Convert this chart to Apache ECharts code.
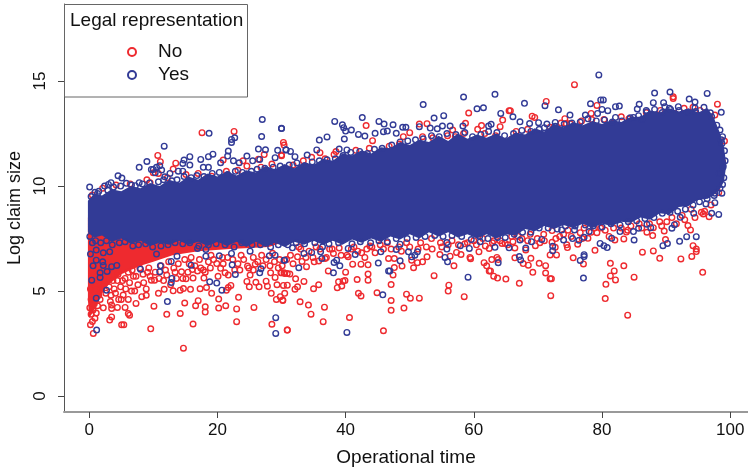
<!DOCTYPE html>
<html><head><meta charset="utf-8">
<script src="https://cdn.jsdelivr.net/npm/echarts@6/dist/echarts.min.js"></script>
<style>html,body{margin:0;padding:0;background:#fff}#c{width:748px;height:470px}</style></head>
<body><div id="c"></div>
<script>
const xTicks=[0,20,40,60,80,100];
const yTicks=[0,5,10,15];
// Envelope of the solid (overplotted) core
const coreX=[-0.2,0.8,2,3.5,5,6.5,8,9.5,11,12.5,14,15.5,17,18.5,20,21.5,23,24.5,26,27.5,29,30.5,32,33.5,35,36.5,38,39.5,41,42.5,44,45.5,47,48.5,50,51.5,53,54.5,56,57.5,59,60.5,62,63.5,65,66.5,68,69.5,71,72.5,74,75.5,77,78.5,80,81.5,83,84.5,86,87.5,89,90.5,92,93.5,95,96.5,97.5,98.3,99,99.4];
const coreTop=[9.3,9.65,9.55,9.85,9.75,10,9.9,10.15,10,10.3,10.15,10.45,10.3,10.6,10.45,10.7,10.5,10.75,10.65,10.95,10.8,11.05,10.85,11.15,11,11.3,11.2,11.55,11.45,11.7,11.55,11.85,11.8,12.1,11.95,12.2,12.1,12.4,12.15,12.5,12.25,12.45,12.3,12.5,12.25,12.55,12.45,12.75,12.6,12.95,12.8,13.05,12.9,13.1,12.95,13.15,13.05,13.3,13.3,13.6,13.5,13.7,13.55,13.7,13.5,13.7,13.2,12.6,11.9,11];
const coreLow=[7.8,7.55,7.65,7.35,7.5,7.25,7.4,7.15,7.3,7.2,7.4,7.2,7.35,7.15,7.35,7.15,7.35,7.1,7.35,7.1,7.3,7.1,7.35,7.2,7.4,7.2,7.4,7.2,7.45,7.3,7.5,7.35,7.6,7.45,7.7,7.5,7.8,7.6,7.8,7.55,7.7,7.5,7.7,7.5,7.7,7.65,7.95,7.85,8.1,7.95,8.15,8,8.2,8,8.2,8.1,8.3,8.25,8.5,8.4,8.7,8.65,9,9.05,9.35,9.4,9.6,9.8,10.2,11];
// Solid red region under the core at the low end of operational time
const redX=[-0.2,0,1,2,3,5,8,10,13,17,22,28,31];
const redLow=[4.6,3.7,4.2,4.9,5.3,5.8,6.2,6.4,6.7,6.9,7,7.1,7.4];
const redTop=[8.5,8.5,8.5,8.5,8.5,8.5,8.5,8.5,8.5,8.5,8.5,8.5,8.5];
const noPoints=[[0.64,2.98],[14.7,2.28],[9.6,3.2],[5.06,3.39],[5.4,3.39],[16.2,3.43],[23,3.54],[12.1,3.89],[14.2,3.93],[18.1,4],[23,4.15],[18.1,4.25],[20.2,4.19],[21.3,4.3],[25.7,4.22],[16.6,4.3],[10.1,4.28],[14.9,4.43],[17,4.54],[20.2,4.62],[23.3,4.7],[6.3,3.85],[6.1,3.93],[3.5,4.17],[4.4,4.22],[5.6,4.22],[3.5,4.33],[7.3,4.41],[8.9,4.8],[28.5,3.42],[30.9,3.14],
[15.1,5.58],[16.2,5.62],[17.9,5.62],[14.7,5.12],[15.8,5.08],[14.2,5.04],[13.1,5.01],[11.7,5.08],[10.8,4.89],[17.3,5.11],[18.3,5.17],[19.1,4.89],[21.4,5.04],[22.1,5.27],[21.7,5.17],[24.6,5.46],[24.98,5.2],[26,5.42],[26.5,5.2],[27.6,5.47],[27.8,5.23],[29.3,5.3],[28.4,4.89],[30.3,5.27],[30.4,5.87],[30.9,5.84],[29.9,5.87],[29,5.65],[28.3,5.87],[25.9,6.28],[24.7,6.19],[25.1,5.76],[23.5,6],[21.7,5.76],[21.2,5.87],[20.5,6.08],[19.9,6.31],[18.6,6.39],[17.8,6],[16.9,5.96],[16.1,6.03],[14.4,5.92],[13.6,5.6],[12.1,5.76],[9.7,5.52],[10.2,5.52],[6.1,4.6],[4.6,4.6],[5.3,4.81],[8.2,4.73],[3.2,3.62],[3.5,3.77],[29.2,4.6],[30.2,4.57],[29.8,4.73],
[30.9,3.14],[36.5,3.54],[34.6,3.9],[40.6,3.74],[36.7,4.23],[34.2,4.33],[32.9,4.49],[30.2,4.55],[45.9,3.11],[49.1,4.19],[47.1,4.08],[47.1,4.55],[49.5,4.85],[50.1,4.66],[51.5,4.66],[58.5,4.73],[56,5],[56.1,5.28],[53.8,5.73],[44.9,4.92],[42,4.89],[42.4,4.77],[47.1,5.31],[41.8,5.55],[43.5,5.52],[43.5,5.81],[47.4,5.77],[47.6,6.12],[48.8,6.19],[50.6,6.11],[37.3,5.96],[33.9,6.16],[32.2,5.58],[33.5,5.46],[35.8,5.3],[35,5.11],[32.1,5.09],[32.5,5.2],[30.9,5.28],[30.5,4.89],[38.9,5.44],[39.6,5.47],[39.9,5.5],[38.7,5.16],[39.4,5.24],[40,5.9],[41.1,6.28],[42.4,6.28],[43.5,6.25],[31.3,5.81],[30.5,5.84],[30,5.87],[33.2,6.41],[32.5,6.63],[35.1,6.39],[35.8,6.43],
[36.8,6.55],[38.1,6.79],[40.2,6.71],[40.4,6.63],[43,6.6],[42.5,6.82],[44.6,6.82],[46.7,6.55],[47.6,6.55],[50.3,6.47],[51.2,6.35],[52,6.39],[52.7,6.63],[54.7,6.74],[56.3,6.66],[56.9,6.2],[57.3,6.84],[58,6.74],[59.4,6.6],[59.5,6.54],[60.8,6.87],[61.6,6.35],[62,6.2],[62.4,5.96],[62.6,5.96],[63.1,5.71],[63.7,5.62],[65,5.57],[63.6,6.6],[63.8,6.5],[62.8,6.5],[62.4,7.03],[64.9,7.27],[64.4,7.27],[63.1,7.39],
[84,3.85],[80.5,4.64],[72,4.78],[67.1,5.37],[80.6,5.32],[72.1,5.59],[71.9,5.59],[82.1,5.53],[81.3,5.72],[81.9,5.96],[85,5.66],[83.4,6.2],[81.3,6.32],[77.1,6.29],[69.2,5.89],[71.2,5.86],[71.2,6.21],[70.2,6.32],[68.5,6.23],[67.7,6.31],[66.4,6.58],[68.9,6.56],[75.5,6.58],[71.9,6.72],[72.9,6.72],[78.9,6.94],[86.3,6.85],[88,6.91],[89,6.56],[92.3,6.53],[94,6.65],[95.7,5.89],[94.7,7],[94.7,6.88],[94.2,7.16],[89.9,7.45],[87.9,7.64],[87,7.8],[89.7,7.86],[93.8,7.91],[93.4,8.12],[83.4,7.48],[83.8,7.81],[82,7.43],[77.8,7.51],[76.2,7.23],[74.5,7.2],[74.6,7.07],[72.7,7.08],[72.2,7.32],[70.3,7.3],[69.6,7.16],[68.1,6.96],[66.4,7.05],[66.1,7.35],[72.2,7.88],[79.2,7.78],[76.6,7.78],[95.5,8.75],[96.7,8.54],[88,8.02],[95.8,8.67],
[17.6,12.54],[22.6,12.6],[10.7,11.46],[13.5,11.09],[11.1,11.16],[30.3,12.08],[30.4,11.95],[27.3,11.5],[30,11.44],[13.1,10.81],[20.9,11.24],[9.5,10.16],[0.5,9.57],[24,11.2],[26.4,11.28],[10,10.63],[10.8,10.6],[18.3,10.36],[19.1,10.47],[24.6,10.95],
[43.2,12.88],[59.2,13.48],[65.5,13.59],[64.5,13.14],[52.7,12.97],[51.5,12.95],[58.7,12.99],[61.2,12.88],[64.1,12.83],[60.6,12.7],[30,11.48],[38.5,11.64],[36,11.59],[50,12.54],[49,12.35],[52,12.35],[56.7,12.67],[57.1,12.35],[44.2,12.16],[34.7,11.37],
[75.7,14.83],[71.3,14.03],[79.2,13.84],[91.1,14.17],[91.1,14.25],[98,13.9],[65.7,13.59],[69.1,13.33],[69.5,13.27],[74.2,13.21],[74.4,12.98],[75,12.98],[78.3,13.46],[78.4,13.17],[80.3,13.17],[83,13.3],[91.4,13.46],[96.1,13.49],[97.6,13.38],[99.1,12.14],[98.8,11.16],[72.4,12.75],[70.8,12.03],[69.8,12.48],[65.9,12.24],[97.5,10.21],[98.2,9.69],
[0.1,4.2],[0.3,4.6],[0.2,5.1],[0.6,4.1],[0.9,3.7],[1.3,4.3],[1.7,4.6],[2.2,4.2],[2.6,4.9],[3.1,5.2],[3.4,4.8],[3.9,5.1],[4.4,5.5],[4.9,5.2],[5.6,5.6],[6.3,5.4],[6.9,5.7],[7.6,5.3],[8.4,5.8],[9.1,5.9],[7.1,5],[9.3,6.1],[11.2,6.2],[12.4,6.4],[13.2,6.1],[14.9,6.5],[15.6,6.3],[17.2,6.5],[19,6.7],[20.8,6.6],[22.4,6.5],[23.7,6.7],[25.6,6.6],[26.9,6.7],[28.6,6.8],[29.7,6.5],[31.4,6.7],[33,7],[34.3,6.9],[35.4,7.1],[37.5,7],[39,7.05],[41.3,7.1],[43.8,7.15],[45.4,7.2],[46.5,7.3],[48.3,7.1],[49.5,7.3],[51.7,7.3],[53.4,7.5],[54.8,7.3],[56.6,7.4],[58.6,7.25],[60,7.4],[61.8,7.15],[65.9,7.6],[67.5,7.5],[68.8,7.7],[70.9,7.7],[73.4,7.6],[74.7,7.9],[77.2,8],[78.8,8],[80.5,7.9],[81.8,8],[84.5,8.1],[85.8,8.2],[89,8.3],[90.9,8.5],[92.5,8.6],[93.9,8.9],
[2.1,9.9],[4.2,10.05],[6.4,10.1],[9,10.3],[12.2,10.4],[15.1,10.55],[17,10.6],[21.4,10.7],[23.2,10.75],[26.8,10.9],[28.5,11.05],[31.8,11],[33.4,11.2],[36.8,11.3],[38.2,11.5],[41.6,11.7],[43.7,11.8],[46.8,11.9],[48.4,12],[53.6,12.3],[55.9,12.4],[58.4,12.5],[61.7,12.5],[63.4,12.4],[66.6,12.6],[68.4,12.7],[71.9,12.8],[73.6,13],[76.8,13.1],[81.7,13],[84.2,13.2],[86.9,13.5],[89.1,13.6],[92.8,13.7],[94.2,13.75],[95.3,13.6],
[0.2,3.4],[0.5,3.55],[0.3,3.9],[0.8,4.4],[1.1,3.95],[1.5,4.8],[1.9,5.1],[0.4,5.7],[1,5.3],[2.4,5.5],[2.9,5.7],[3.3,4.5],[3.7,5.5],[4.1,4.9],[4.5,5.8],[5,4.6],[5.2,5.5],[5.7,5.1],[6.1,5.9],[6.6,5],[6.7,6],[7.3,5.7],[7.9,6.1],[8.5,5.4],[8.9,5.1],[9.5,5.7],[10.3,5.9],[10.9,5.6],[11.6,5.5],[11.9,6],[12.7,5.3],[13.4,5.9],[13.9,6.3],[14.6,5.6],[15.4,5.9],[15.9,6.6],[16.5,6.2],[17.4,6.1],[18.1,5.9],[18.9,6.1],[19.4,6.5],[20.1,5.7],[20.9,6.3],[21.6,6.6],[22.7,6],[23.2,6.3],[24.1,6.5],[24.9,6.1],[25.6,6],[26.3,6.4],[27.1,6.2],[27.6,6.5],[28.2,6.2],[28.9,6.4],[29.5,6.1],[30.1,6.2],[30.8,6.5],[31.8,6.3],[32.7,7.1],[33.8,6.6],[34.9,6.6],[36,7],[37,6.6],[37.9,7],[39.3,6.7],[40.9,7],[41.9,6.9],[43.3,7],[44.1,7.1],[45.9,7],[47.1,7],[48.7,6.9],[50,7.1],[51.3,7],[52.6,7.1],[53.5,7],[55,7.1],[56,7.2],[57.6,7.2],[59,7.3],[60.4,7.2],[61.4,7.5],[62.9,7.3],[64.1,7.4],[65.3,7.2],[66.9,7.6],[68.4,7.4],[69.9,7.5],[71,7.4],[72.8,7.5],[74,7.7],[75.2,7.6],[76.9,7.5],[78.3,7.8],[79.8,8],[81.1,7.6],[83,8],[84,7.9],[86.2,8],[87.4,8.2],[89.3,8.1],[90.1,8.3],[91.6,8.2],[92.9,8.4],[94.5,8.5],[96,8.8],[97,9.1]];
const yesPoints=[[1.16,3.14],[29.1,3.73],[29.1,2.98],[12.2,4.5],[20.7,5.04],[2.7,5.04],[1.1,4.66],[0.4,5.52],[12.9,5.6],[12.8,5.41],[18.8,5.44],[19.9,5.38],[11,5.92],[11.1,6.2],[12.8,6.41],[8,6.04],[15.9,6.23],[22.3,6.25],[22.8,5.79],[26.8,6.06],[26.6,5.87],[1.7,5.65],[1.7,5.87],[2.8,5.93],[4.3,6.22],[3.5,6.16],[2.1,6.39],[2.2,6.22],[0.6,6.2],[1.1,6.47],[0.2,6.76],[1.1,6.95],[2.2,6.82],[3.2,6.87],[10.5,6.76],[13.7,6.66],[18.2,6.66],[18.2,6.98],[20.3,6.68],[22.2,6.79],[25.1,6.9],[28.1,6.68],[29,6.71],[30.4,6.47],[16.9,7.03],
[40.2,3.03],[45.8,4.82],[59.1,5.66],[46.7,5.96],[46.9,5.96],[45.1,6.33],[38.1,5.87],[32.7,6.11],[30.5,6.47],[39.1,6.2],[38.6,6.47],[38.2,6.36],[36.3,6.55],[36.1,6.87],[36.4,7.11],[33.5,6.79],[34.7,6.84],[31.7,7.06],[41.5,6.74],[40.4,7.03],[45.5,6.87],[47.9,6.98],[48.5,6.44],[49.8,6.87],[48.5,7.23],[50.8,6.71],[50.3,6.63],[51.2,6.87],[55.5,6.6],[55.9,6.39],[55.8,7],[55.8,7.31],[57.9,7.16],[59.3,7.03],[63.3,7.08],[63.8,6.35],[65.5,7.06],[61,7.35],
[77.1,5.62],[76.6,6.46],[77.2,6.73],[77.2,6.64],[80.8,7.07],[80.3,7.16],[79.7,7.27],[85,7.43],[89.5,7.16],[90.2,7.27],[92.1,7.37],[93.2,7.59],[94.7,7.59],[90.9,7.99],[91.3,8.16],[67.3,6.48],[67.1,6.64],[72.3,6.92],[72.3,7.13],[68.1,7.05],[67.2,7.43],[69,7.35],[70.6,7.46],[74,7.43],[75.4,7.5],[76.4,7.42],[77.2,7.56],[78,7.83],[75.7,7.91],[73.7,7.91],[81.5,7.51],[82.8,7.83],[84.9,7.83],[85.7,7.99],[87.6,8.02],[87,8.18],[94.3,8.7],[97.1,8.7],[98.2,8.65],[97.6,9.21],[96.2,9.15],[97.6,9.66],[98.8,10.08],[98.7,9.66],[92.2,8.51],
[27,13.17],[30,12.74],[26.9,12.36],[18.7,12.51],[22.7,12.3],[22.2,12.22],[22.2,12.08],[11.7,11.9],[21.7,11.67],[21.6,11.43],[19.3,11.52],[18.6,11.4],[17.4,11.27],[15.7,11.4],[15.7,11],[14.8,11.24],[14.6,11.08],[9,11.17],[7.8,10.89],[0.07,9.95],[26.4,11.76],[27.5,11.73],[29.4,11.7],[30.7,11.73],[24.6,11.43],[4.5,10.49],[5.1,10.38],[3.4,10.16],[2.4,10],[3,10.08],[5.8,10.13],[7.8,10.16],[10,10.79],[9.7,10.79],[10.5,10.89],[11,10.97],[11.3,10.76],[10.3,10.63],[22.5,11.2],[20.5,11.11],[17.8,10.89],[18.6,10.89],[23.4,11.11],[25.5,11.2],[26.6,11.27],[29,11.35],[12.6,10.6],[13.9,10.71],[14.6,10.71],[11.8,10.44],[1.3,9.65],
[30,12.75],[35.9,12.19],[37.1,12.34],[38.3,13.08],[39.5,12.92],[39.7,12.78],[40,12.62],[40.9,12.67],[42.6,13.26],[39.8,12.24],[45.2,13.08],[46,12.95],[47.4,12.92],[46.5,12.62],[48.9,12.8],[49.4,12.8],[52.1,13.88],[53.8,13.24],[55.3,13.35],[58.4,14.24],[63.3,14.37],[60.5,13.68],[61.5,13.73],[64.2,13.46],[62.7,12.94],[62.3,12.86],[58.3,12.86],[56.3,12.86],[55.1,12.86],[54.3,12.73],[53.2,12.76],[51.5,12.83],[47.9,12.51],[45.9,12.59],[44.6,12.51],[43,12.38],[42,12.46],[35.5,11.72],[30.7,11.72],[31.4,11.65],[39,11.76],[40.2,11.72],[32.1,11.4],[34,11.48],
[79.5,15.29],[67.9,13.94],[71.1,13.83],[73.2,13.63],[78.2,13.92],[79.8,14.1],[80.2,14.1],[80,13.65],[80.9,13.59],[82.1,13.78],[82.7,13.81],[85.8,13.89],[85.5,13.67],[87,13.54],[88.2,14.43],[88,13.97],[90.6,14.48],[89.6,13.97],[90.5,13.71],[89.8,13.78],[91.9,13.78],[93.6,14.14],[94.5,14],[94.5,13.73],[96.4,14.41],[96.9,13.49],[98.6,13.51],[72.7,13.03],[75,13.38],[77.4,13.38],[79.3,13.46],[82.1,13.27],[84.9,13.27],[86.2,13.17],[66.1,13.3],[68.7,12.98],[70.1,13.02],[67.2,13.06],[71,12.78],[99.1,11.68],[98.7,12.03],[98.4,12.67],[98.8,12.35],[98.9,10.92],[98.3,10.6],
[0.3,9.5],[0.9,9.7],[1.5,9.75],[2.9,9.8],[3.8,9.95],[4.9,10],[6.6,10.05],[7.2,10.02],[8.3,10.1],[9.4,10.15],[10.8,10.2],[11.6,10.3],[12.9,10.25],[13.7,10.3],[14.8,10.45],[15.9,10.4],[16.8,10.5],[17.9,10.45],[19.2,10.6],[20.3,10.65],[21.6,10.55],[22.8,10.7],[23.9,10.65],[25.3,10.7],[26.2,10.8],[27.4,10.85],[28.7,10.9],[29.8,10.95],[31.2,11],[32.4,11.1],[33.7,10.95],[34.8,11.15],[35.9,11.2],[37.1,11.25],[38.4,11.3],[39.6,11.45],[40.8,11.6],[42.2,11.65],[43.4,11.55],[44.5,11.75],[45.7,11.8],[47.2,11.95],[48.5,12.1],[49.7,12.15],[50.9,12.2],[52.1,12.25],[53.4,12.4],[54.6,12.35],[55.8,12.5],[57.2,12.45],[58.6,12.55],[59.8,12.35],[61.1,12.45],[62.3,12.6],[63.6,12.55],[64.8,12.4],[66.2,12.5],[67.5,12.65],[68.9,12.6],[70.2,12.7],[71.4,12.95],[72.7,12.85],[74.1,12.95],[75.3,13],[76.6,13.05],[77.8,13.2],[79.1,13.1],[80.4,13.15],[81.6,13.05],[83.1,13.1],[84.4,13.25],[85.7,13.35],[86.9,13.6],[88.2,13.65],[89.4,13.5],[90.7,13.65],[92,13.6],[93.3,13.5],[94.6,13.55],[95.9,13.75],[97.1,13.3],[97.9,12.9],[98.6,12.2],[99.2,11.2],
[0.1,7.6],[0.5,7.3],[1,7.4],[1.8,7.3],[2.7,7.4],[3.6,7.2],[4.7,7.3],[5.6,7.35],[6.8,7.15],[7.7,7.2],[8.8,7.25],[9.9,7.1],[11.2,7.15],[12.3,7.2],[13.4,7.3],[14.6,7.25],[15.7,7.3],[17.1,7.15],[18.6,7.2],[19.8,7.25],[21.2,7.2],[22.6,7.1],[23.8,7.3],[25.4,7.2],[26.7,7.2],[28.3,7.1],[29.5,7.2],[31,7.2],[32.3,7.3],[33.6,7.25],[35.2,7.3],[37.4,7.25],[38.9,7.3],[41,7.25],[42.3,7.35],[43.9,7.3],[45.2,7.4],[46.5,7.35],[47.9,7.5],[49.6,7.5],[51,7.55],[52.4,7.6],[53.9,7.65],[55.2,7.6],[56.6,7.65],[58.1,7.6],[59.6,7.45],[60.9,7.6],[62.2,7.5],[63.7,7.55],[64.9,7.55],[66.3,7.7],[67.6,7.8],[68.9,7.8],[70.2,8],[71.6,8],[73,7.95],[74.3,8.1],[75.8,8.1],[77.4,8.15],[78.6,8.1],[80,8.05],[81.4,8.2],[82.8,8.15],[84.1,8.3],[85.4,8.35],[86.7,8.45],[88.1,8.5],[89.4,8.7],[90.6,8.75],[91.8,8.8],[93,8.9],[94.2,9.1],[95.2,9.25],[96.4,9.4],[97.5,9.55],[98.4,9.9],[99,10.4]];

const chart=echarts.init(document.getElementById('c'),null,{renderer:'canvas'});
const ink='#111';
const RED='#ee2a2f', BLUE='#323b96';
const band=(xs,lo,hi,color,z)=>({type:'custom',silent:true,z,coordinateSystem:'cartesian2d',
  data:xs.map((x,i)=>[x,lo[i],hi[i]]),encode:{x:0,y:[1,2]},clip:true,
  renderItem:(p,api)=>{ if(p.dataIndex!==0) return null;
    const pts=[];
    xs.forEach((x,i)=>pts.push(api.coord([x,hi[i]])));
    for(let i=xs.length-1;i>=0;i--) pts.push(api.coord([xs[i],lo[i]]));
    return {type:'polygon',shape:{points:pts},style:{fill:color}};
  }});
const ring=(name,data,color,z)=>({type:'scatter',name,data,z,symbol:'circle',symbolSize:5.6,animation:false,
  itemStyle:{color:'rgba(0,0,0,0)',borderColor:color,borderWidth:1.4,opacity:1},emphasis:{disabled:true},large:false});
chart.setOption({
  animation:false,backgroundColor:'#fff',textStyle:{fontFamily:'Liberation Sans'},
  grid:{left:64,right:0,top:4,bottom:58,containLabel:false,outerBoundsMode:'none'},
  xAxis:{type:'value',min:-3.93,max:102.77,name:'Operational time',nameLocation:'middle',nameGap:36,
    nameTextStyle:{fontSize:19,color:ink,fontFamily:'Liberation Sans'},splitLine:{show:false},
    axisLine:{onZero:false,lineStyle:{color:'#999',width:2}},
    axisTick:{length:6,lineStyle:{color:'#444',width:1},customValues:xTicks},
    axisLabel:{fontSize:17,color:ink,margin:10,customValues:xTicks,showMinLabel:true,showMaxLabel:true}},
  yAxis:{type:'value',min:-0.76,max:18.67,name:'Log claim size',nameLocation:'middle',nameGap:39,
    nameTextStyle:{fontSize:18,color:ink,fontFamily:'Liberation Sans'},splitLine:{show:false},
    axisLine:{onZero:false,lineStyle:{color:'#555',width:1}},
    axisTick:{length:6,lineStyle:{color:'#444',width:1},customValues:yTicks},
    axisLabel:{fontSize:17,color:ink,rotate:90,margin:15,customValues:yTicks,align:'center',verticalAlign:'bottom'}},
  legend:{z:60,data:['No','Yes'],orient:'vertical',left:122,top:37,itemWidth:42,itemHeight:8,itemGap:3,selectedMode:false,
    textStyle:{fontSize:19,color:ink,lineHeight:20,fontFamily:'Liberation Sans'}},
  graphic:[
    {type:'rect',z:50,shape:{x:64.5,y:4.5,width:183,height:92.5},style:{fill:'#fff',stroke:'#666',lineWidth:1}},
    {type:'text',z:51,left:70,top:11,style:{text:'Legal representation',fontSize:19,fill:ink,fontFamily:'Liberation Sans'}}
  ],
  series:[
    band(redX,redLow,redTop,RED,1),
    ring('No',noPoints,RED,2),
    band(coreX,coreLow,coreTop,BLUE,3),
    ring('Yes',yesPoints,BLUE,4)
  ]
});
</script></body></html>
